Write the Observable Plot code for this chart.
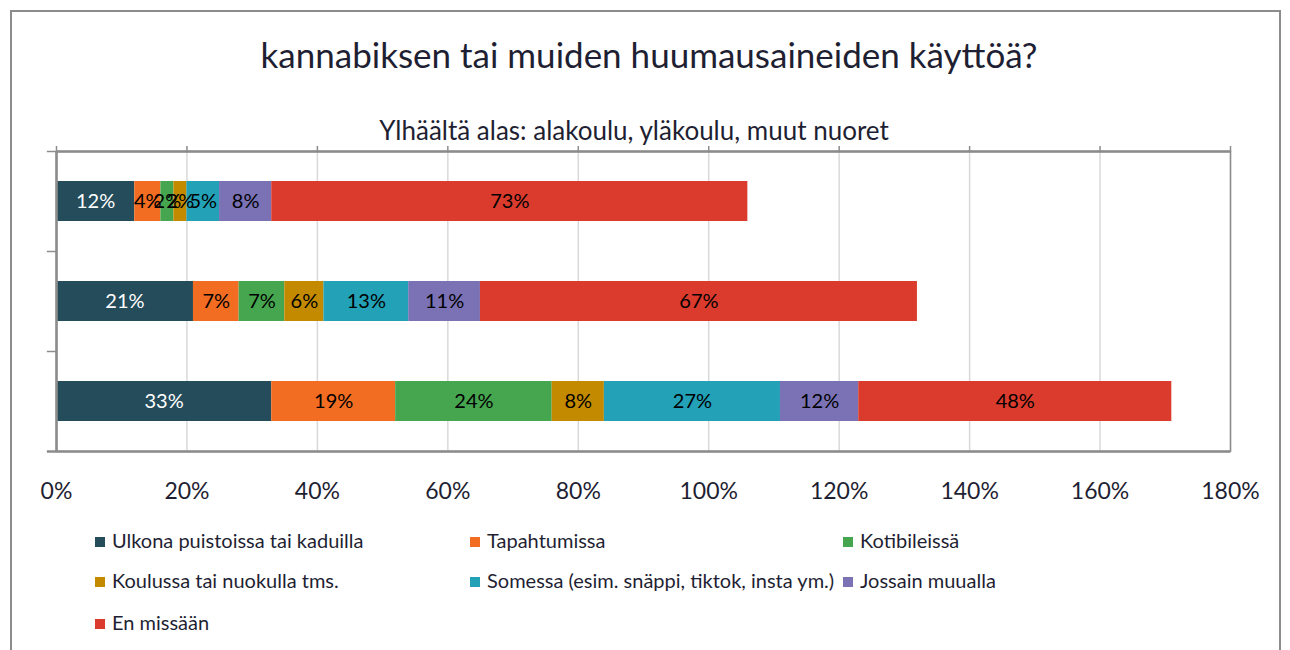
<!DOCTYPE html>
<html>
<head>
<meta charset="utf-8">
<script src="https://cdn.jsdelivr.net/npm/d3@7"></script>
<script src="https://cdn.jsdelivr.net/npm/@observablehq/plot@0.6"></script>
<style>
  html, body { margin: 0; padding: 0; background: #fff; }
  body { width: 1290px; height: 650px; position: relative; overflow: hidden; font-family: Lato, "Open Sans", sans-serif; color: #1f1f33; }
  #border { position: absolute; left: 10px; top: 10px; width: 1267px; height: 700px; border: 2px solid #8c8c8c; border-bottom: none; }
  #title { position: absolute; top: 33px; left: 4px; width: 1290px; text-align: center; font-size: 35px; white-space: nowrap; }
  #subtitle { position: absolute; top: 114px; left: 0; width: 1268px; text-align: center; font-size: 26px; white-space: nowrap; }
  #chart { position: absolute; left: 0; top: 120px; }
  #chart svg { overflow: visible; }
  .li { position: absolute; font-size: 20px; white-space: nowrap; line-height: 24px; }
  .sw { display: inline-block; width: 10px; height: 10px; margin-right: 7px; vertical-align: 1px; }
</style>
</head>
<body>
<div id="border"></div>
<div id="title">kannabiksen tai muiden huumausaineiden käyttöä?</div>
<div id="subtitle">Ylhäältä alas: alakoulu, yläkoulu, muut nuoret</div>
<div id="chart"></div>
<div id="legend"></div>
<script>
const groups = ["alakoulu", "yläkoulu", "muut nuoret"];
const categories = [
  "Ulkona puistoissa tai kaduilla",
  "Tapahtumissa",
  "Kotibileissä",
  "Koulussa tai nuokulla tms.",
  "Somessa (esim. snäppi, tiktok, insta ym.)",
  "Jossain muualla",
  "En missään"
];
const colors = ["#244c5a", "#f26d22", "#46a64f", "#c38a00", "#22a1b7", "#7a72b5", "#da3b2d"];
const alakoulu = [12, 4, 2, 2, 5, 8, 73];
const ylakoulu = [21, 7, 7, 6, 13, 11, 67];
const muut = [33, 19, 24, 8, 27, 12, 48];
const xTicks = [0, 20, 40, 60, 80, 100, 120, 140, 160, 180];

const series = [alakoulu, ylakoulu, muut];
const data = [];
groups.forEach((g, gi) => categories.forEach((c, ci) => data.push({group: g, cat: c, value: series[gi][ci]})));

const gray = "#8c8c8c";
const stackOpts = {x: "value", y: "group", z: "cat"};

const plot = Plot.plot({
  width: 1290,
  height: 396,
  marginLeft: 56,
  marginRight: 60,
  marginTop: 31,
  marginBottom: 65,
  x: {domain: [0, 180], ticks: xTicks},
  y: {domain: groups, paddingInner: 0.6, paddingOuter: 0.3, axis: null},
  color: {domain: categories, range: colors},
  style: {fontFamily: "Lato, 'Open Sans', sans-serif", color: "#1f1f33", background: "transparent", overflow: "visible"},
  marks: [
    Plot.gridX(xTicks, {stroke: "#d9d9d9", strokeOpacity: 1, strokeWidth: 1.5}),
    Plot.barX(data, Plot.stackX({...stackOpts, fill: "cat"})),
    Plot.text(data, Plot.stackX({...stackOpts, text: d => d.cat === categories[0] ? d.value + "%" : null, fill: "white", fontSize: 20})),
    Plot.text(data, Plot.stackX({...stackOpts, text: d => d.cat !== categories[0] ? d.value + "%" : null, fill: "black", fontSize: 20})),
    Plot.frame({stroke: gray, strokeWidth: 1.5}),
    Plot.ruleX([0], {stroke: gray, strokeWidth: 2.5}),
    Plot.ruleY(groups, {y: d => d, x1: -1.4, x2: 0, dy: -50, stroke: gray, strokeWidth: 1.5}),
    Plot.ruleY([groups[groups.length - 1]], {y: d => d, x1: -1.4, x2: 180, dy: 50, stroke: gray, strokeWidth: 2.5}),
    Plot.ruleY([groups[0]], {y: d => d, x1: 0, x2: 180, dy: -50, stroke: gray, strokeWidth: 2.5}),
    Plot.axisX(xTicks, {anchor: "top", tickSize: 6, tickFormat: () => "", label: null, stroke: gray, strokeWidth: 1.5}),
    Plot.axisX(xTicks, {anchor: "bottom", tickSize: 0, tickPadding: 31, tickFormat: d => d + "%", label: null, fontSize: 23, fill: "#1f1f33"})
  ]
});
document.getElementById("chart").appendChild(plot);

const legend = document.getElementById("legend");
const colX = [95, 470, 843];
const rowY = [528, 568, 610];
categories.forEach((c, i) => {
  const el = document.createElement("div");
  el.className = "li";
  el.style.left = colX[i % 3] + "px";
  el.style.top = rowY[Math.floor(i / 3)] + "px";
  el.innerHTML = `<span class="sw" style="background:${colors[i]}"></span>${c}`;
  legend.appendChild(el);
});
</script>
</body>
</html>
